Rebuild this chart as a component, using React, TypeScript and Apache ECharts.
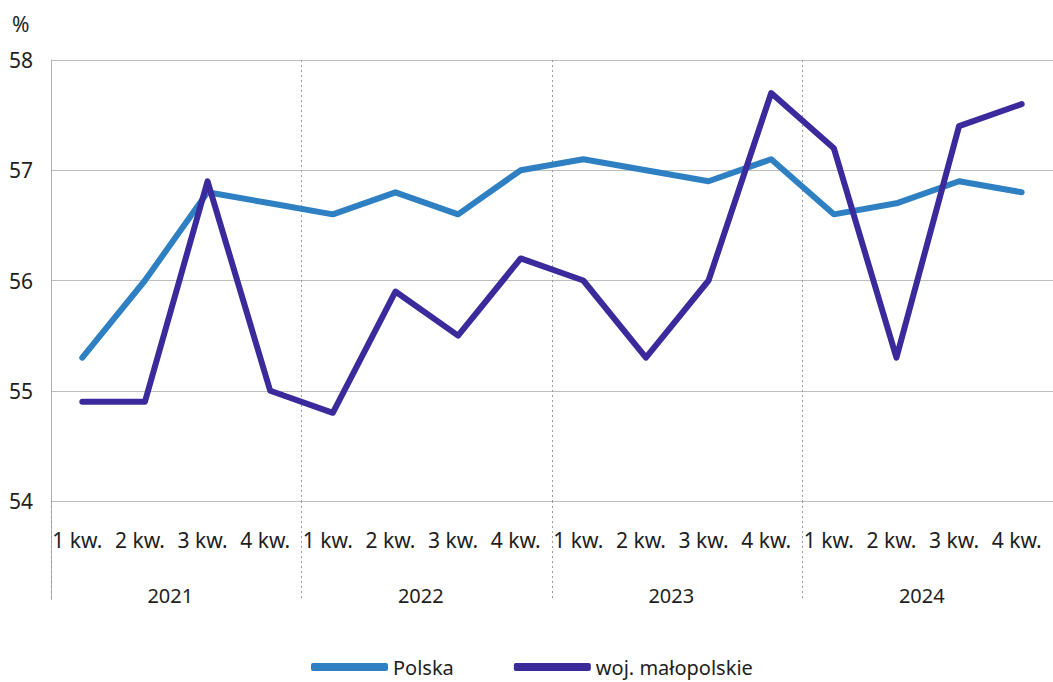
import React, { useEffect, useRef } from "react";
import * as echarts from "echarts";

const quarters = [
  "1 kw.", "2 kw.", "3 kw.", "4 kw.",
  "1 kw.", "2 kw.", "3 kw.", "4 kw.",
  "1 kw.", "2 kw.", "3 kw.", "4 kw.",
  "1 kw.", "2 kw.", "3 kw.", "4 kw.",
];
const years = ["2021", "2022", "2023", "2024"];
const polska = [55.3, 56.0, 56.8, 56.7, 56.6, 56.8, 56.6, 57.0, 57.1, 57.0, 56.9, 57.1, 56.6, 56.7, 56.9, 56.8];
const malopolskie = [54.9, 54.9, 56.9, 55.0, 54.8, 55.9, 55.5, 56.2, 56.0, 55.3, 56.0, 57.7, 57.2, 55.3, 57.4, 57.6];
const yTicks = { min: 54, max: 58, interval: 1 };

const FONT = "Noto Sans";
const TEXT = "#1e1e1e";

export default function App() {
  const ref = useRef<HTMLDivElement>(null);
  useEffect(() => {
    if (!ref.current) return;
    const chart = echarts.init(ref.current, null, { renderer: "svg" });
    chart.setOption({
      animation: false,
      backgroundColor: "#ffffff",
      textStyle: { fontFamily: FONT },
      title: {
        text: "%",
        left: 12,
        top: 13,
        padding: 0,
        textStyle: { fontFamily: FONT, fontSize: 21, fontWeight: "normal", color: TEXT },
      },
      grid: { left: 51, right: -9, top: 60, bottom: 181, containLabel: false },
      legend: {
        left: 311,
        top: 657,
        padding: 0,
        icon: "roundRect",
        itemWidth: 77,
        itemHeight: 8,
        itemGap: 60,
        textStyle: { fontFamily: FONT, fontSize: 20, color: TEXT },
        data: ["Polska", "woj. małopolskie"],
      },
      xAxis: [
        {
          type: "category",
          data: quarters,
          boundaryGap: true,
          axisLine: { show: false },
          axisTick: {
            show: true,
            interval: (index: number) => index === 0,
            length: 99,
            lineStyle: { color: "#b0b0b0", width: 1 },
          },
          axisLabel: {
            interval: 0,
            margin: 28,
            fontSize: 21,
            color: TEXT,
            fontFamily: FONT,
            padding: [0, 10, 0, 0],
          },
          splitLine: { show: false },
        },
        {
          type: "category",
          data: years,
          position: "bottom",
          boundaryGap: true,
          axisLine: { show: false },
          axisTick: {
            show: true,
            length: 99,
            lineStyle: { color: "#9a9a9a", width: 1, type: [2, 3] },
          },
          axisLabel: {
            interval: 0,
            margin: 84,
            fontSize: 20,
            color: TEXT,
            fontFamily: FONT,
            padding: [0, 12, 0, 0],
          },
          splitLine: {
            show: true,
            showMinLine: false,
            showMaxLine: false,
            lineStyle: { color: "#9a9a9a", width: 1, type: [2, 3] },
          },
        },
      ],
      yAxis: {
        type: "value",
        min: yTicks.min,
        max: yTicks.max,
        interval: yTicks.interval,
        axisLine: { show: true, lineStyle: { color: "#b0b0b0", width: 1 } },
        axisTick: { show: false },
        axisLabel: { margin: 18, fontSize: 21, color: TEXT, fontFamily: FONT },
        splitLine: { show: true, lineStyle: { color: "#bdbdbd", width: 1 } },
      },
      series: [
        {
          name: "Polska",
          type: "line",
          xAxisIndex: 0,
          data: polska,
          symbol: "none",
          color: "#2f80c3",
          lineStyle: { width: 6, color: "#2f80c3", cap: "round", join: "round" },
          z: 3,
        },
        {
          name: "woj. małopolskie",
          type: "line",
          xAxisIndex: 0,
          data: malopolskie,
          symbol: "none",
          color: "#3b2a9b",
          lineStyle: { width: 6, color: "#3b2a9b", cap: "round", join: "round" },
          z: 4,
        },
      ],
    });
    return () => chart.dispose();
  }, []);
  return (
    <div
      ref={ref}
      style={{ position: "fixed", left: 0, top: 0, width: 1053, height: 682 }}
    />
  );
}
